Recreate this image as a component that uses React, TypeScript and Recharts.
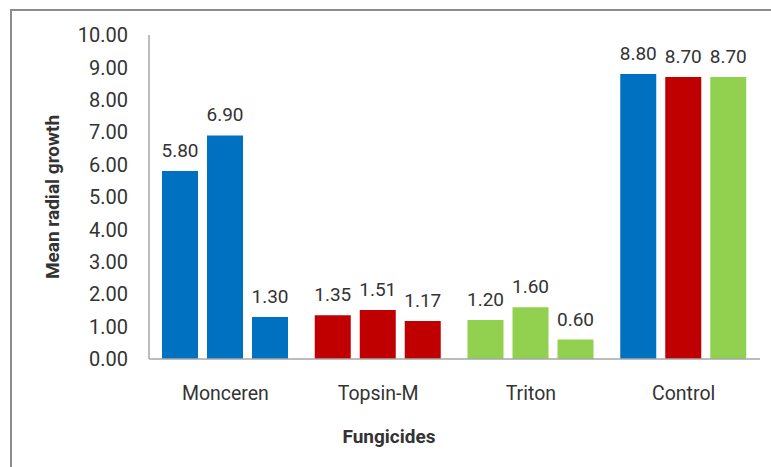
import { BarChart, Bar, XAxis, YAxis, Cell, LabelList } from 'recharts';

const categories = ['Monceren', 'Topsin-M', 'Triton', 'Control'];
const firstBar = [5.8, 1.35, 1.2, 8.8];
const secondBar = [6.9, 1.51, 1.6, 8.7];
const thirdBar = [1.3, 1.17, 0.6, 8.7];
const yTicks = [0, 1, 2, 3, 4, 5, 6, 7, 8, 9, 10];

const data = categories.map((name, i) => ({
  name,
  a: firstBar[i],
  b: secondBar[i],
  c: thirdBar[i],
}));

const BLUE = '#0070C0';
const RED = '#C00000';
const GREEN = '#92D050';

// colour of each bar: rows = category, columns = bar within group
const cellColors = [
  [BLUE, BLUE, BLUE],
  [RED, RED, RED],
  [GREEN, GREEN, GREEN],
  [BLUE, RED, GREEN],
];

const FONT = 'Roboto, "Open Sans", sans-serif';
const TEXT = '#333333';

const fmt = (v: any) => Number(v).toFixed(2);

function YTitle() {
  return (
    <text
      x={52}
      y={197}
      transform="rotate(-90 52 197)"
      textAnchor="middle"
      dominantBaseline="central"
      fontFamily={FONT}
      fontSize={19}
      fontWeight="bold"
      fill={TEXT}
    >
      Mean radial growth
    </text>
  );
}

function XTitle() {
  return (
    <text x={389} y={443} textAnchor="middle" fontFamily={FONT} fontSize={19} fontWeight="bold" fill={TEXT}>
      Fungicides
    </text>
  );
}

const seriesKeys = ['a', 'b', 'c'];

export default function App() {
  return (
    <div style={{ position: 'absolute', left: 0, top: 0, width: 771, height: 467, overflow: 'hidden', background: '#fff' }}>
      <div
        style={{
          position: 'absolute',
          left: 10,
          top: 9,
          width: 800,
          height: 500,
          border: '2px solid #8c8c8c',
        }}
      />
      <div style={{ position: 'absolute', left: 0, top: 0 }}>
        <BarChart
          width={771}
          height={467}
          data={data}
          margin={{ top: 35, right: 11, left: 0, bottom: 0 }}
          barGap={9}
          barCategoryGap={13}
        >
          <XAxis
            dataKey="name"
            height={108}
            tickLine={false}
            tickSize={0}
            tickMargin={27}
            axisLine={{ stroke: '#a6a6a6', strokeWidth: 1.5 }}
            tick={{ fill: TEXT, fontSize: 19.5, fontFamily: FONT }}
            label={<XTitle />}
          />
          <YAxis
            width={149}
            domain={[0, 10]}
            ticks={yTicks}
            tickFormatter={fmt}
            tickLine={false}
            tickSize={0}
            tickMargin={21}
            axisLine={{ stroke: '#a6a6a6', strokeWidth: 1.5 }}
            tick={{ fill: TEXT, fontSize: 20, fontFamily: FONT }}
            label={<YTitle />}
          />
          {seriesKeys.map((key, s) => (
            <Bar key={key} dataKey={key} isAnimationActive={false}>
              {data.map((_, i) => (
                <Cell key={i} fill={cellColors[i][s]} />
              ))}
              <LabelList
                dataKey={key}
                position="top"
                offset={14}
                formatter={fmt}
                style={{ fill: TEXT, fontSize: 19, fontFamily: FONT }}
              />
            </Bar>
          ))}
        </BarChart>
      </div>
    </div>
  );
}
